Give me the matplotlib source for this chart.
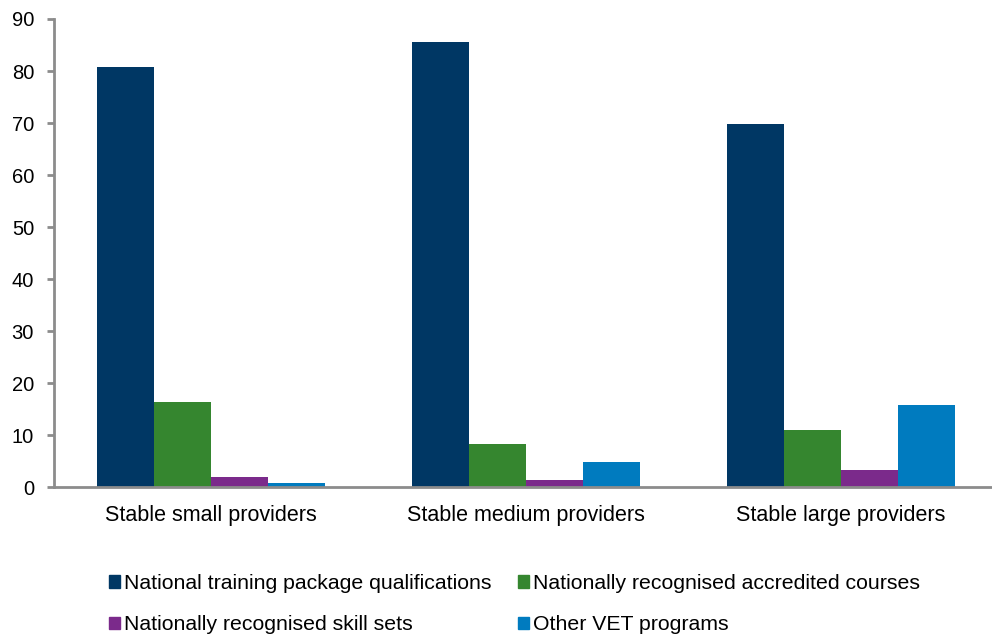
import matplotlib
matplotlib.use("Agg")
import matplotlib.pyplot as plt
import numpy as np
from matplotlib.patches import Rectangle

plt.rcParams['font.family'] = ['Liberation Sans', 'DejaVu Sans']

# Share of enrolments by program type, per provider group (%)
categories = ["Stable small providers", "Stable medium providers", "Stable large providers"]
series_names = [
    "National training package qualifications",
    "Nationally recognised accredited courses",
    "Nationally recognised skill sets",
    "Other VET programs",
]
training_package = [80.8, 85.6, 69.8]
accredited_courses = [16.4, 8.3, 11.1]
skill_sets = [2.0, 1.4, 3.3]
other_vet = [0.8, 4.8, 15.8]

COLOURS = ['#003764', '#35862F', '#7B2A8B', '#007BBF']
AXIS_GREY = '#8C8C8C'

fig = plt.figure(figsize=(9.92, 6.39), dpi=100)
ax = fig.add_axes([53.5 / 992, 1 - 487.3 / 639, 945 / 992, 468.3 / 639])

x = np.arange(len(categories))
w = 0.181
series = [training_package, accredited_courses, skill_sets, other_vet]
for i, (vals, col) in enumerate(zip(series, COLOURS)):
    ax.bar(x + (i - 1.5) * w, vals, width=w, color=col, edgecolor='none')

ax.set_xlim(-0.5, 2.5)
ax.set_ylim(0, 90)
ax.set_yticks(np.arange(0, 91, 10))
ax.set_xticks(x)
ax.set_xticklabels(categories)

for sp in ('top', 'right'):
    ax.spines[sp].set_visible(False)
for sp in ('left', 'bottom'):
    ax.spines[sp].set_color(AXIS_GREY)
    ax.spines[sp].set_linewidth(2)
ax.tick_params(axis='y', length=5, width=2, color=AXIS_GREY, labelsize=14.5, pad=9)
ax.tick_params(axis='x', length=0, labelsize=15.5, pad=12.5)

# legend laid out row by row: matplotlib fills columns first, so interleave
handles = [Rectangle((0, 0), 1, 1, color=c) for c in COLOURS]
order = [0, 2, 1, 3]
fig.legend([handles[i] for i in order], [series_names[i] for i in order],
           ncol=2, loc='upper left',
           bbox_to_anchor=(109 / 992, 1 - 574 / 639), frameon=False,
           fontsize=15.3, handlelength=0.52, handleheight=0.52,
           handletextpad=0.2, columnspacing=1.22, labelspacing=1.05,
           borderaxespad=0, borderpad=0)

fig.savefig("out.png", dpi=100)
